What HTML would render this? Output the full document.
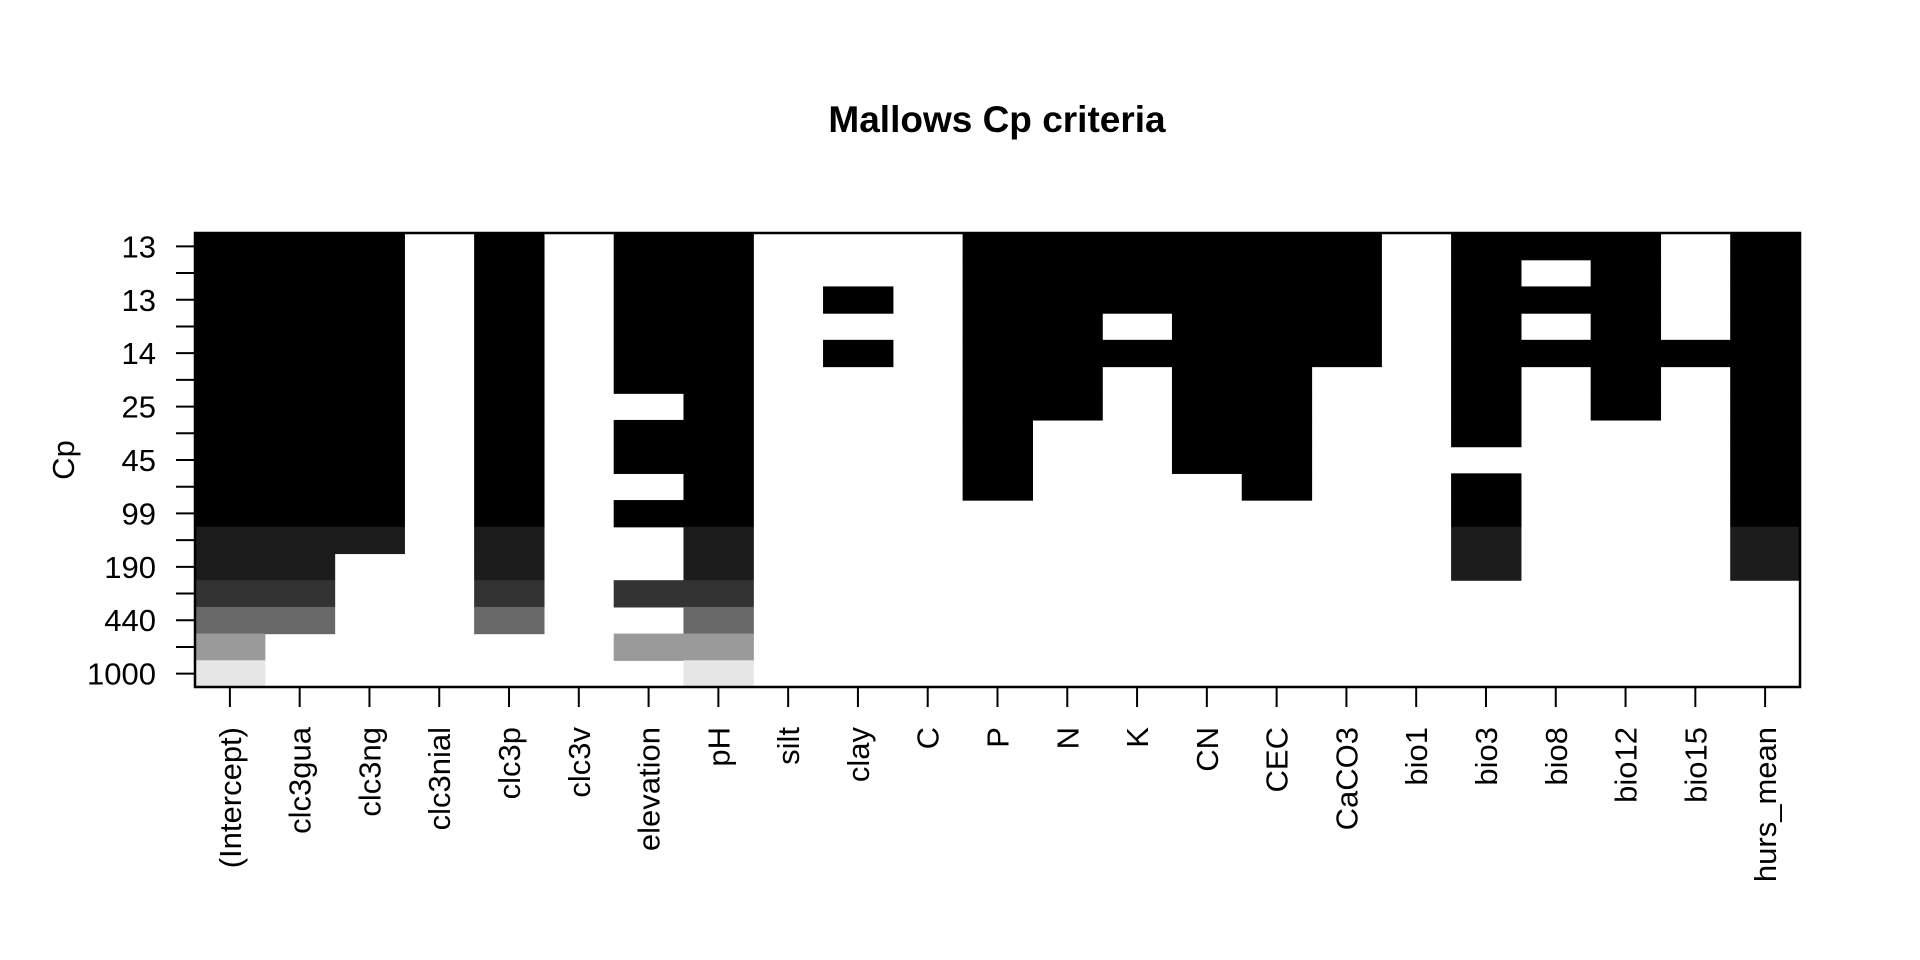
<!DOCTYPE html>
<html><head><meta charset="utf-8"><style>
html,body{margin:0;padding:0;background:#fff;}
svg{display:block;font-family:"Liberation Sans",Arial,sans-serif;}
</style></head><body>
<svg id="chart" width="1920" height="960" viewBox="0 0 1920 960">
<text x="997" y="132" text-anchor="middle" font-size="37" font-weight="bold">Mallows Cp criteria</text>
<text transform="translate(74,460) rotate(-90)" text-anchor="middle" font-size="31">Cp</text>
<g id="cells"></g>
<g id="axes"></g>
</svg>
<script>
const variables = ["(Intercept)","clc3gua","clc3ng","clc3nial","clc3p","clc3v","elevation","pH","silt","clay","C","P","N","K","CN","CEC","CaCO3","bio1","bio3","bio8","bio12","bio15","hurs_mean"];
const rowLabels = ["13","","13","","14","","25","","45","","99","","190","","440","","1000"];
const rowShades = ["#000000","#000000","#000000","#000000","#000000","#000000","#000000","#000000","#000000","#000000","#000000","#1c1c1c","#1c1c1c","#333333","#686868","#9a9a9a","#e6e6e6"];
// included rows for each variable (row index 0 = top)
const included = [
  [0,1,2,3,4,5,6,7,8,9,10,11,12,13,14,15,16],
  [0,1,2,3,4,5,6,7,8,9,10,11,12,13,14],
  [0,1,2,3,4,5,6,7,8,9,10,11],
  [],
  [0,1,2,3,4,5,6,7,8,9,10,11,12,13,14],
  [],
  [0,1,2,3,4,5,7,8,10,13,15],
  [0,1,2,3,4,5,6,7,8,9,10,11,12,13,14,15,16],
  [],
  [2,4],
  [],
  [0,1,2,3,4,5,6,7,8,9],
  [0,1,2,3,4,5,6],
  [0,1,2,4],
  [0,1,2,3,4,5,6,7,8],
  [0,1,2,3,4,5,6,7,8,9],
  [0,1,2,3,4],
  [],
  [0,1,2,3,4,5,6,7,9,10,11,12],
  [0,2,4],
  [0,1,2,3,4,5,6],
  [4],
  [0,1,2,3,4,5,6,7,8,9,10,11,12]
];
const NS="http://www.w3.org/2000/svg";
const L=195,R=1800,T=233,B=687;
const nCol=variables.length,nRow=rowLabels.length;
const cw=(R-L)/nCol,rh=(B-T)/nRow;
function xPos(i){return L+i*cw;}
function yPos(r){return T+r*rh;}
const cells=document.getElementById('cells');
const axes=document.getElementById('axes');
function mk(tag,attrs,parent){const e=document.createElementNS(NS,tag);for(const k in attrs)e.setAttribute(k,attrs[k]);parent.appendChild(e);return e;}
included.forEach((rows,ci)=>{rows.forEach(r=>{
  const c=mk('rect',{x:xPos(ci),y:yPos(r),width:cw+0.6,height:rh+0.6,fill:rowShades[r]},cells);
  
  
});});
const frame=mk('rect',{x:L,y:T,width:R-L,height:B-T,fill:'none',stroke:'#000','stroke-width':2.5},axes);


rowLabels.forEach((lab,r)=>{
  const yc=yPos(r)+rh/2;
  const t=mk('line',{x1:L-19,x2:L,y1:yc,y2:yc,stroke:'#000','stroke-width':2},axes);
  
  
  if(lab){
    const tx=mk('text',{x:L-39,y:yc+11,'text-anchor':'end','font-size':31},axes);
    tx.textContent=lab;
    
    
  }
});
variables.forEach((v,i)=>{
  const xc=xPos(i)+cw/2;
  const t=mk('line',{x1:xc,x2:xc,y1:B,y2:B+20,stroke:'#000','stroke-width':2},axes);
  
  
  const tx=mk('text',{transform:'translate('+(xc+11)+',727) rotate(-90)','text-anchor':'end','font-size':31},axes);
  tx.textContent=v;
  
  
});
</script>
</body></html>
